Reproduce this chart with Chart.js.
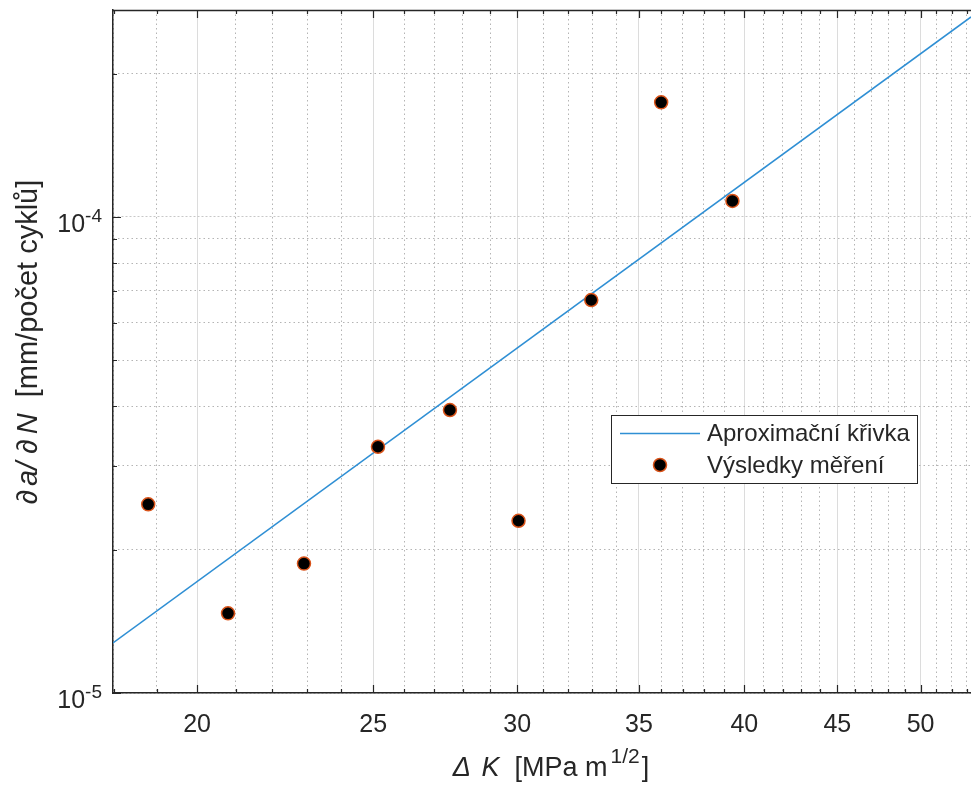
<!DOCTYPE html>
<html>
<head>
<meta charset="utf-8">
<script src="https://cdn.jsdelivr.net/npm/chart.js@4.4.1/dist/chart.umd.min.js"></script>
<style>
html, body { margin: 0; padding: 0; background: #fff; overflow: hidden; }
canvas { display: block; }
</style>
</head>
<body>
<canvas id="graf" width="971" height="790"></canvas>
<script>
// naměřené body: rozkmit faktoru intenzity napětí a rychlost šíření trhliny
var deltaK = [18.8, 20.8, 22.9, 25.15, 27.55, 30.05, 32.95, 36.0, 39.4];
var rychlost = [2.49e-5, 1.47e-5, 1.87e-5, 3.29e-5, 3.93e-5, 2.30e-5, 6.69e-5, 1.74e-4, 1.08e-4];

// aproximační přímka (v log-log souřadnicích), krajní body
var fitK = [17.98, 53.3];
var fitRychlost = [1.274e-5, 2.63e-4];

// popisky os
var xTickLabels = [20, 25, 30, 35, 40, 45, 50];
var yTickExp = [-5, -4];

var xMin = 17.98, xMax = 53.3;
var yMin = 1e-5, yMax = 2.72e-4;

// vedlejší dílky: celá čísla na ose x, násobky dekády na ose y
var xAll = [];
for (var k = 18; k <= 53; k++) xAll.push(k);
var yAll = [];
[1e-5, 1e-4].forEach(function (d) {
  for (var m = 1; m <= 9; m++) {
    var v = m * d;
    if (v <= yMax) yAll.push(v);
  }
});

function isMajorX(v) { return xTickLabels.indexOf(Math.round(v)) >= 0 && Math.abs(v - Math.round(v)) < 1e-9; }
function isMajorY(v) {
  var l = Math.log10(v);
  return Math.abs(l - Math.round(l)) < 1e-6;
}

var FONT = '"Liberation Sans", Arial, Helvetica, sans-serif';
var INK = '#262626';

// text složený z částí (horní index = menší písmo, posun nahoru)
function textParts(ctx, parts) {
  var w = 0;
  parts.forEach(function (p) { ctx.font = p.font; w += ctx.measureText(p.t).width + (p.gap || 0); });
  return w;
}
function drawParts(ctx, parts, x, y) {
  parts.forEach(function (p) {
    ctx.font = p.font;
    ctx.fillText(p.t, x, y + (p.dy || 0));
    x += ctx.measureText(p.t).width + (p.gap || 0);
  });
}

var ramecek = {
  id: 'ramecek',
  afterDraw: function (chart) {
    var ctx = chart.ctx;
    var a = chart.chartArea;
    var sx = chart.scales.x, sy = chart.scales.y;
    ctx.save();

    // horní hrana rámečku
    ctx.strokeStyle = INK;
    ctx.lineWidth = 1.3;
    ctx.beginPath();
    ctx.moveTo(a.left, a.top + 0.5);
    ctx.lineTo(a.right, a.top + 0.5);
    ctx.stroke();

    // dílky směřující dovnitř
    ctx.lineWidth = 1.2;
    ctx.beginPath();
    xAll.forEach(function (v) {
      var px = Math.round(sx.getPixelForValue(v)) + 0.5;
      var len = isMajorX(v) ? 8 : 4;
      ctx.moveTo(px, a.bottom); ctx.lineTo(px, a.bottom - len);
      ctx.moveTo(px, a.top); ctx.lineTo(px, a.top + len);
    });
    yAll.forEach(function (v) {
      var py = Math.round(sy.getPixelForValue(v)) + 0.5;
      var len = isMajorY(v) ? 8 : 4;
      ctx.moveTo(a.left, py); ctx.lineTo(a.left + len, py);
    });
    ctx.stroke();

    ctx.fillStyle = INK;

    // popisky osy x
    ctx.font = '25px ' + FONT;
    ctx.textAlign = 'center';
    ctx.textBaseline = 'alphabetic';
    xTickLabels.forEach(function (v) {
      ctx.fillText(String(v), sx.getPixelForValue(v), a.bottom + 39);
    });

    // popisky osy y: 10 s exponentem
    ctx.textAlign = 'left';
    yTickExp.forEach(function (e) {
      var py = sy.getPixelForValue(Math.pow(10, e));
      var parts = [
        { t: '10', font: '25px ' + FONT },
        { t: '-' + Math.abs(e), font: '19px ' + FONT, dy: -10 }
      ];
      var w = textParts(ctx, parts);
      drawParts(ctx, parts, 102 - w, py + 15);
    });

    // název osy x
    var xt = [
      { t: '\u0394 ', font: 'italic 27px ' + FONT, gap: 3 },
      { t: 'K', font: 'italic 27px ' + FONT },
      { t: '  [MPa m', font: '27px ' + FONT, gap: 3 },
      { t: '1/2', font: '21px ' + FONT, dy: -13, gap: 2 },
      { t: ']', font: '27px ' + FONT }
    ];
    var wx = textParts(ctx, xt);
    drawParts(ctx, xt, 551 - wx / 2, 776);

    // název osy y
    ctx.save();
    ctx.translate(37, 342);
    ctx.rotate(-Math.PI / 2);
    var yt = [
      { t: '\u2202', font: 'italic 29px ' + FONT, gap: 4 },
      { t: 'a/ ', font: 'italic 29px ' + FONT },
      { t: '\u2202', font: 'italic 29px ' + FONT, gap: 5 },
      { t: 'N', font: 'italic 29px ' + FONT },
      { t: '  [mm/počet cyklů]', font: '29px ' + FONT }
    ];
    var wy = textParts(ctx, yt);
    drawParts(ctx, yt, -wy / 2, 0);
    ctx.restore();

    // legenda
    var ds = chart.data.datasets;
    var bx = 611, by = 415, bw = 306, bh = 68;
    ctx.fillStyle = '#fff';
    ctx.fillRect(bx, by, bw, bh);
    ctx.strokeStyle = INK;
    ctx.lineWidth = 1;
    ctx.strokeRect(bx + 0.5, by + 0.5, bw, bh);

    ctx.strokeStyle = ds[1].borderColor;
    ctx.lineWidth = ds[1].borderWidth;
    ctx.beginPath();
    ctx.moveTo(620, 433.5); ctx.lineTo(700, 433.5);
    ctx.stroke();

    ctx.beginPath();
    ctx.arc(660, 465, ds[0].pointRadius, 0, Math.PI * 2);
    ctx.fillStyle = ds[0].backgroundColor;
    ctx.fill();
    ctx.strokeStyle = ds[0].borderColor;
    ctx.lineWidth = ds[0].borderWidth;
    ctx.stroke();

    ctx.fillStyle = INK;
    ctx.font = '24px ' + FONT;
    ctx.textAlign = 'left';
    ctx.textBaseline = 'middle';
    ctx.fillText(ds[1].label, 707, 434);
    ctx.fillText(ds[0].label, 707, 466);

    ctx.restore();
  }
};

var ctx = document.getElementById('graf').getContext('2d');

var chart = new Chart(ctx, {
  data: {
    datasets: [
      {
        type: 'scatter',
        label: 'Výsledky měření',
        data: deltaK.map(function (k, i) { return { x: k, y: rychlost[i] }; }),
        backgroundColor: '#000000',
        borderColor: '#d95319',
        borderWidth: 1.5,
        pointRadius: 6.5,
        order: 0
      },
      {
        type: 'line',
        label: 'Aproximační křivka',
        data: fitK.map(function (k, i) { return { x: k, y: fitRychlost[i] }; }),
        borderColor: '#2f8fd4',
        borderWidth: 1.5,
        pointRadius: 0,
        fill: false,
        order: 1
      }
    ]
  },
  options: {
    responsive: false,
    animation: false,
    devicePixelRatio: 1,
    layout: { autoPadding: false, padding: { left: 113, top: 10, right: 0, bottom: 97 } },
    plugins: { legend: { display: false }, tooltip: { enabled: false } },
    scales: {
      x: {
        type: 'logarithmic',
        min: xMin,
        max: xMax,
        afterBuildTicks: function (s) { s.ticks = xAll.map(function (v) { return { value: v }; }); },
        ticks: { display: false },
        grid: {
          drawTicks: false,
          lineWidth: 1,
          color: function (c) { return c.tick && isMajorX(c.tick.value) ? '#dcdcdc' : '#b4b4b4'; }
        },
        border: {
          color: INK,
          width: 1.5,
          dash: function (c) { return c.tick && !isMajorX(c.tick.value) ? [1.5, 3] : []; }
        }
      },
      y: {
        type: 'logarithmic',
        min: yMin,
        max: yMax,
        afterBuildTicks: function (s) { s.ticks = yAll.map(function (v) { return { value: v }; }); },
        ticks: { display: false },
        grid: {
          drawTicks: false,
          lineWidth: 1,
          color: function (c) { return c.tick && isMajorY(c.tick.value) ? '#c8c8c8' : '#b4b4b4'; }
        },
        border: {
          color: INK,
          width: 1.5,
          dash: function (c) { return c.tick && !isMajorY(c.tick.value) ? [1.5, 3] : [2, 2]; }
        }
      }
    }
  },
  plugins: [ramecek]
});
</script>
</body>
</html>
